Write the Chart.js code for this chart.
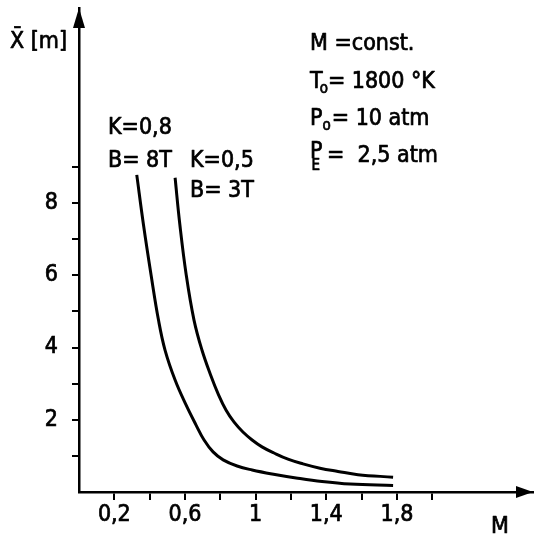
<!DOCTYPE html>
<html>
<head>
<meta charset="utf-8">
<script src="https://cdn.jsdelivr.net/npm/chart.js@4/dist/chart.umd.min.js"></script>
<style>
  html, body { margin: 0; padding: 0; background: #fff; }
  canvas { display: block; }
</style>
</head>
<body>
<canvas id="c" width="535" height="539"></canvas>
<script>
// ---- data ----
const curveK08_M = [0.327, 0.365, 0.408, 0.450, 0.487, 0.544, 0.606, 0.662, 0.708, 0.759, 0.816, 0.895, 0.980, 1.093, 1.229, 1.376, 1.535, 1.778];
const curveK08_X = [8.78, 7.40, 6.01, 4.76, 3.93, 3.10, 2.41, 1.86, 1.44, 1.11, 0.89, 0.72, 0.61, 0.50, 0.39, 0.29, 0.22, 0.18];
const curveK05_M = [0.544, 0.571, 0.607, 0.651, 0.696, 0.745, 0.790, 0.832, 0.877, 0.928, 0.980, 1.036, 1.104, 1.183, 1.268, 1.364, 1.466, 1.579, 1.778];
const curveK05_X = [8.70, 7.40, 6.01, 4.76, 3.93, 3.24, 2.69, 2.27, 1.94, 1.66, 1.44, 1.25, 1.08, 0.91, 0.78, 0.66, 0.57, 0.48, 0.41];

const xTickValues = [0.2, 0.4, 0.6, 0.8, 1.0, 1.2, 1.4, 1.6, 1.8, 2.0];
const xTickLabels = ['0,2', '', '0,6', '', '1', '', '1,4', '', '1,8', ''];
const yTickValues = [1, 2, 3, 4, 5, 6, 7, 8, 9];
const yTickLabels = ['', '2', '', '4', '', '6', '', '8', ''];

const xAxisTitle = 'M';
const yAxisTitle = 'X\u0304 [m]';
const curveLabels = [['K=0,8', 'B= 8T'], ['K=0,5', 'B= 3T']];
const noteLines = [
  [{t: 'M =const.'}],
  [{t: 'T'}, {t: 'o', sub: true, dx: -3, dy: 5}, {t: '= 1800 °K'}],
  [{t: 'P'}, {t: 'o', sub: true, dx: 0, dy: 5}, {t: '= 10 atm', dx: 1}],
  [{t: 'P', dy: -4}, {t: 'E', sub: true, dx: -11, dy: 8}, {t: '=  2,5 atm', dx: 7}]
];

const FONT = '"DejaVu Sans Condensed", "DejaVu Sans", sans-serif';
const FS = 23;
const STROKE = 0.7;

function toPoints(xs, ys) { return xs.map((x, i) => ({x: x, y: ys[i]})); }

function txt(ctx, s, x, y) {
  ctx.fillText(s, x, y);
  ctx.strokeText(s, x, y);
}

const annotate = {
  id: 'annotate',
  afterDraw(chart) {
    const ctx = chart.ctx;
    const xs = chart.scales.x, ys = chart.scales.y;
    const ca = chart.chartArea;
    ctx.save();
    ctx.fillStyle = '#000';
    ctx.strokeStyle = '#000';
    ctx.lineWidth = STROKE;
    ctx.lineJoin = 'round';
    // arrow heads at axis ends
    const ox = xs.getPixelForValue(0), oy = ys.getPixelForValue(0);
    ctx.beginPath();
    ctx.moveTo(ca.right, oy);
    ctx.lineTo(ca.right - 17, oy - 6);
    ctx.lineTo(ca.right - 17, oy + 6);
    ctx.closePath(); ctx.fill();
    ctx.beginPath();
    ctx.moveTo(ox, ca.top);
    ctx.lineTo(ox - 6, ca.top + 20);
    ctx.lineTo(ox + 6, ca.top + 20);
    ctx.closePath(); ctx.fill();

    ctx.textBaseline = 'alphabetic';
    ctx.textAlign = 'left';
    ctx.font = FS + 'px ' + FONT;
    // axis titles
    txt(ctx, yAxisTitle, 10, 48);
    txt(ctx, xAxisTitle, 491, 533);
    // curve labels
    txt(ctx, curveLabels[0][0], 108, 134);
    txt(ctx, curveLabels[0][1], 108, 167);
    txt(ctx, curveLabels[1][0], 190, 167);
    txt(ctx, curveLabels[1][1], 190, 197);
    // notes with subscripts
    const baselines = [50, 88, 125, 162];
    noteLines.forEach((segs, i) => {
      let x = 310;
      segs.forEach(s => {
        ctx.font = (s.sub ? 15 : FS) + 'px ' + FONT;
        x += (s.dx || 0);
        txt(ctx, s.t, x, baselines[i] + (s.dy || 0));
        x += ctx.measureText(s.t).width;
      });
    });
    ctx.restore();
  }
};

new Chart(document.getElementById('c'), {
  type: 'line',
  data: {
    datasets: [
      { label: 'K=0,8 B=8T', data: toPoints(curveK08_M, curveK08_X), borderColor: '#000', borderWidth: 3, pointRadius: 0, tension: 0.4, fill: false },
      { label: 'K=0,5 B=3T', data: toPoints(curveK05_M, curveK05_X), borderColor: '#000', borderWidth: 3, pointRadius: 0, tension: 0.4, fill: false }
    ]
  },
  options: {
    responsive: false,
    animation: false,
    devicePixelRatio: 1,
    layout: { padding: { top: 8, right: 2, left: 0, bottom: 0 } },
    plugins: { legend: { display: false }, tooltip: { enabled: false } },
    scales: {
      x: {
        type: 'linear', min: 0, max: 2.57,
        afterBuildTicks: (axis) => { axis.ticks = xTickValues.map(v => ({value: v})); },
        afterFit: (axis) => { axis.height = 47; axis.paddingLeft = 0; axis.paddingRight = 0; },
        border: { display: true, color: '#000', width: 2.5 },
        grid: { display: true, drawOnChartArea: false, drawTicks: true, tickLength: 8, color: '#000', lineWidth: 2 },
        ticks: {
          autoSkip: false, maxRotation: 0, padding: 1, color: '#000',
          textStrokeColor: '#000', textStrokeWidth: STROKE,
          font: { family: FONT, size: FS },
          callback: (v, i) => xTickLabels[i]
        }
      },
      y: {
        type: 'linear', min: 0, max: 13.4,
        afterBuildTicks: (axis) => { axis.ticks = yTickValues.map(v => ({value: v})); },
        afterFit: (axis) => { axis.width = 79; axis.paddingTop = 0; axis.paddingBottom = 0; },
        border: { display: true, color: '#000', width: 2.5 },
        grid: { display: true, drawOnChartArea: false, drawTicks: true, tickLength: 7, color: '#000', lineWidth: 2 },
        ticks: {
          autoSkip: false, padding: 14, color: '#000',
          textStrokeColor: '#000', textStrokeWidth: STROKE,
          font: { family: FONT, size: FS },
          callback: (v, i) => yTickLabels[i]
        }
      }
    }
  },
  plugins: [annotate]
});
</script>
</body>
</html>
